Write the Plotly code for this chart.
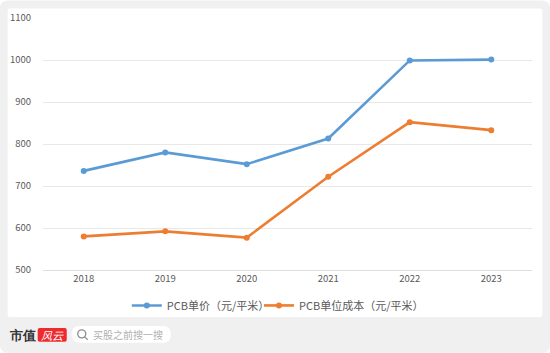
import plotly.graph_objects as go

years = ["2018", "2019", "2020", "2021", "2022", "2023"]
price = [736, 780, 752, 813, 999, 1001]
cost = [580, 592, 577, 722, 852, 833]
name_price = "PCB单价（元/平米）"
name_cost = "PCB单位成本（元/平米）"
BLUE = "#5B9BD5"
ORANGE = "#ED7D31"
W, H = 550, 353
FONT = "Noto Sans CJK SC"
L, R, T, B = 43.3, 531.7, 17.5, 270

def fx(x): return (x - L) / (R - L)
def fy(y): return (B - y) / (B - T)
def P(x, y): return f"{fx(x):.5f} {fy(y):.5f}"

def rrect(x0, y0, x1, y1, r, fill, layer="below"):
    p = (f"M {P(x0+r,y0)} L {P(x1-r,y0)} Q {P(x1,y0)} {P(x1,y0+r)} L {P(x1,y1-r)} "
         f"Q {P(x1,y1)} {P(x1-r,y1)} L {P(x0+r,y1)} Q {P(x0,y1)} {P(x0,y1-r)} "
         f"L {P(x0,y0+r)} Q {P(x0,y0)} {P(x0+r,y0)} Z")
    return dict(type="path", xref="paper", yref="paper", path=p,
                fillcolor=fill, line=dict(width=0), layer=layer)

fig = go.Figure()
for name, vals, col, leg in [(name_price, price, BLUE, "legend"), (name_cost, cost, ORANGE, "legend2")]:
    fig.add_trace(go.Scatter(x=years, y=vals, name=name, mode="lines+markers", legend=leg,
                             line=dict(color=col, width=2.6),
                             marker=dict(color=col, size=6)))

shapes = [
    rrect(0, 0, 550, 353, 9, "#f0f0f0"),
    rrect(8, 8, 542, 317, 2, "#ffffff"),
    rrect(72, 326, 171, 343, 8, "#ffffff"),
    rrect(38, 328, 67, 342, 2, "#ee2a2e"),
    dict(type="circle", xref="paper", yref="paper", x0=fx(78), x1=fx(86), y0=fy(338), y1=fy(330),
         line=dict(color="#8c8c8c", width=1.3), layer="below"),
    dict(type="line", xref="paper", yref="paper", x0=fx(85), x1=fx(88), y0=fy(337), y1=fy(340),
         line=dict(color="#8c8c8c", width=1.3), layer="below"),
]

annotations = [
    dict(text="市值", x=fx(23), y=fy(335.5), font=dict(family="serif", size=13, color="#333333", weight=700)),
    dict(text="<i>风云</i>", x=fx(52.5), y=fy(335), font=dict(family=FONT, size=11, color="#ffffff")),
    dict(text="买股之前搜一搜", x=fx(91), y=fy(335), xanchor="left", font=dict(family=FONT, size=10, color="#b0b0b0")),
]
for a in annotations:
    a.update(xref="paper", yref="paper", showarrow=False)
    a.setdefault("xanchor", "center")
    a["yanchor"] = "middle"

def legend_at(x):
    return dict(orientation="h", x=fx(x), xanchor="left", y=fy(305.5), yanchor="middle",
                bgcolor="rgba(0,0,0,0)", font=dict(size=11, color="#595959"), itemwidth=30)

fig.update_layout(
    width=W, height=H, margin=dict(l=L, r=W - R, t=T, b=H - B, pad=0, autoexpand=False),
    paper_bgcolor="#ffffff", plot_bgcolor="rgba(0,0,0,0)",
    showlegend=True,
    font=dict(family=FONT, size=9, color="#595959"),
    legend=legend_at(127), legend2=legend_at(259),
    shapes=shapes, annotations=annotations,
    xaxis=dict(type="category", showgrid=False, showline=True, linecolor="#dedede", linewidth=1,
               ticks="", tickfont=dict(size=9.5), range=[-0.5, 5.5]),
    yaxis=dict(range=[500, 1100], dtick=100, gridcolor="#e8e8e8", gridwidth=1, zeroline=False,
               showline=False, ticks="", tickfont=dict(size=9.5), ticklabelstandoff=11),
)
fig.write_html("out.html", config=dict(displayModeBar=False),
               post_script="document.body.style.margin='0';")
